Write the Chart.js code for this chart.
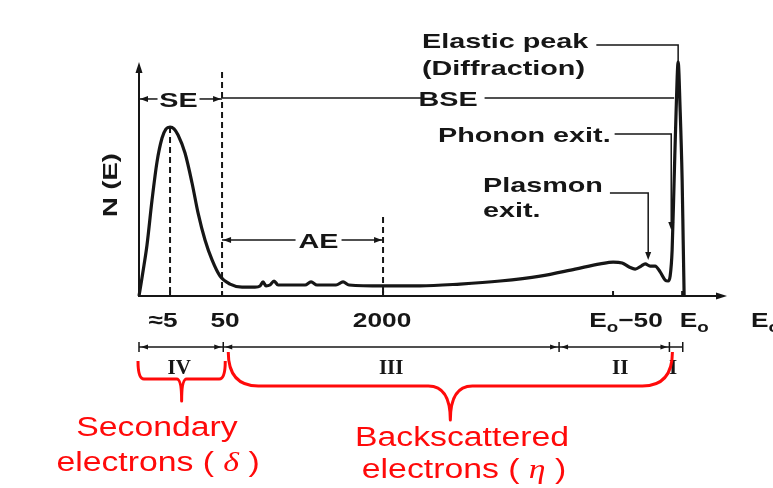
<!DOCTYPE html>
<html>
<head>
<meta charset="utf-8">
<script src="https://cdn.jsdelivr.net/npm/chart.js@4.4.1/dist/chart.umd.min.js"></script>
<style>
  html, body { margin: 0; padding: 0; background: #fff; }
  #spectrum { display: block; }
</style>
</head>
<body>
<canvas id="spectrum" width="773" height="488"></canvas>
<script>
// energy position (schematic, 0 = origin, arbitrary units) and N(E)
const energyPos = [
  0, 0.33, 0.83, 1.32, 2.15, 2.97, 3.8, 4.46, 5.12, 5.78, 6.44, 7.59, 8.75, 9.74,
  10.89, 12.05, 13.37, 15.02, 17.0, 19.14, 19.97, 20.46, 20.96, 21.6, 22.28, 22.94,
  25.74, 27.39, 28.38, 29.37, 32.5, 33.66, 34.65, 40.26, 46.37, 52.97, 59.57, 66.17,
  71.95, 76.07, 78.22, 79.7, 80.86, 81.85, 82.84, 83.5, 84.32, 85.15, 85.97, 86.8,
  87.29, 87.62, 87.95, 88.28, 88.61, 88.94, 89.27, 89.6, 89.77, 89.93
];
const countN = [
  0, 5.1, 13.2, 21.8, 41.0, 57.3, 67.5, 71.4, 72.2, 71.4, 68.8, 61.1, 48.3, 35.5,
  23.9, 15.4, 8.5, 5.1, 3.8, 3.8, 4.3, 6.0, 4.3, 4.7, 6.4, 4.7,
  4.7, 4.7, 6.0, 4.7, 4.7, 6.0, 4.7, 4.3, 4.3, 5.1, 6.4, 8.5,
  11.5, 13.7, 14.5, 14.1, 12.4, 11.5, 12.8, 13.7, 12.8, 12.8, 10.3, 6.8,
  6.4, 8.5, 19.7, 49.6, 79.5, 100, 79.5, 49.6, 23.9, 0
];

// x axis ticks
const tickValues = [5.12, 13.7, 40.26, 78.2, 89.6];
const tickLabels = ['≈5', '50', '2000', 'E0−50', 'E0'];

// energy regions under the axis
const regionBounds = [0, 13.9, 69.3, 87.5, 89.7];
const regionNames = ['IV', 'III', 'II', 'I'];

// guide lines: [x, top y]
const dashedGuides = [[5.12, 72.2], [13.7, 95.7], [40.26, 33.8]];
const spanSE = [0, 13.7];
const spanBSE = [13.7, 88.94];
const spanAE = [13.7, 40.26];

const INK = '#161616';
const RED = '#ff0a0a';
const SANS = '"Liberation Sans", Arial, sans-serif';
const SERIF = '"Liberation Serif", "Times New Roman", serif';

// text drawn a bit wider than the font, like the original lettering
function drawText(ctx, runs, x, y, align, sx, color) {
  ctx.save();
  ctx.fillStyle = color;
  ctx.textBaseline = 'alphabetic';
  ctx.textAlign = 'left';
  let w = 0;
  runs.forEach(r => { ctx.font = r.font; r.w = ctx.measureText(r.s).width; w += r.w; });
  w *= sx;
  let x0 = align === 'center' ? x - w / 2 : align === 'right' ? x - w : x;
  ctx.translate(x0, y);
  ctx.scale(sx, 1);
  let cx = 0;
  runs.forEach(r => {
    ctx.font = r.font;
    ctx.fillText(r.s, cx + (r.dx || 0), r.dy || 0);
    cx += r.w;
  });
  ctx.restore();
  return x0 + w;
}

function label(ctx, s, x, y, align, size) {
  return drawText(ctx, [{ s: s, font: 'bold ' + size + 'px ' + SANS }], x, y, align, 1.37, INK);
}

function arrowHead(ctx, x, y, dir, len, half) {
  ctx.beginPath();
  if (dir === 'right') { ctx.moveTo(x, y); ctx.lineTo(x - len, y - half); ctx.lineTo(x - len, y + half); }
  if (dir === 'left') { ctx.moveTo(x, y); ctx.lineTo(x + len, y - half); ctx.lineTo(x + len, y + half); }
  if (dir === 'up') { ctx.moveTo(x, y); ctx.lineTo(x - half, y + len); ctx.lineTo(x + half, y + len); }
  if (dir === 'down') { ctx.moveTo(x, y); ctx.lineTo(x - half, y - len); ctx.lineTo(x + half, y - len); }
  ctx.closePath();
  ctx.fill();
}

function line(ctx, pts) {
  ctx.beginPath();
  ctx.moveTo(pts[0][0], pts[0][1]);
  for (let i = 1; i < pts.length; i++) ctx.lineTo(pts[i][0], pts[i][1]);
  ctx.stroke();
}

// curly brace opening upward, tip pointing down
function brace(ctx, x0, x1, yTop, yMid, yTip, r, s) {
  const xc = (x0 + x1) / 2;
  ctx.beginPath();
  ctx.moveTo(x0, yTop);
  ctx.quadraticCurveTo(x0, yMid, x0 + r, yMid);
  ctx.lineTo(xc - s, yMid);
  ctx.quadraticCurveTo(xc, yMid, xc, yTip);
  ctx.quadraticCurveTo(xc, yMid, xc + s, yMid);
  ctx.lineTo(x1 - r, yMid);
  ctx.quadraticCurveTo(x1, yMid, x1, yTop);
  ctx.stroke();
}

const annotations = {
  id: 'annotations',
  beforeDatasetsDraw(chart) {
    const ctx = chart.ctx;
    const xs = chart.scales.x, ys = chart.scales.y;
    const px = v => xs.getPixelForValue(v);
    const py = v => ys.getPixelForValue(v);
    const a = chart.chartArea;
    const y0 = py(0);

    ctx.save();
    ctx.strokeStyle = INK;
    ctx.fillStyle = INK;
    ctx.lineCap = 'butt';

    // axes with arrows
    ctx.lineWidth = 2;
    line(ctx, [[a.left, a.top + 8], [a.left, y0], [a.right - 8, y0]]);
    arrowHead(ctx, a.left, a.top, 'up', 11, 3.5);
    arrowHead(ctx, a.right, y0, 'right', 11, 3.5);

    // tick marks
    tickValues.forEach(v => line(ctx, [[px(v), y0], [px(v), y0 - 5]]));

    // dashed guides
    ctx.setLineDash([6, 4]);
    ctx.lineWidth = 2;
    dashedGuides.forEach(g => line(ctx, [[px(g[0]), py(g[1])], [px(g[0]), y0]]));
    ctx.setLineDash([]);
    ctx.restore();
  },
  afterDatasetsDraw(chart) {
    const ctx = chart.ctx;
    const xs = chart.scales.x, ys = chart.scales.y;
    const px = v => xs.getPixelForValue(v);
    const py = v => ys.getPixelForValue(v);

    ctx.save();
    ctx.strokeStyle = INK;
    ctx.fillStyle = INK;

    // SE and BSE spans
    const ySpan = py(84.2);
    ctx.lineWidth = 1.5;
    const seL = px(spanSE[0]), seR = px(spanSE[1]);
    const seMid = (seL + seR) / 2 - 2;
    line(ctx, [[seL, ySpan], [seMid - 21, ySpan]]);
    line(ctx, [[seMid + 21, ySpan], [seR, ySpan]]);
    arrowHead(ctx, seL + 1, ySpan, 'left', 8, 3);
    arrowHead(ctx, seR - 1, ySpan, 'right', 8, 3);
    label(ctx, 'SE', seMid, ySpan + 8, 'center', 21);

    const bseEnd = label(ctx, 'BSE', 448, ySpan + 7, 'center', 21);
    line(ctx, [[px(spanBSE[0]), ySpan - 1], [bseEnd - 56, ySpan - 1]]);
    line(ctx, [[bseEnd + 7, ySpan - 1], [px(spanBSE[1]) - 4, ySpan - 1]]);

    // AE span
    const yAE = py(23.9);
    const aeL = px(spanAE[0]), aeR = px(spanAE[1]);
    const aeMid = (aeL + aeR) / 2 + 16;
    line(ctx, [[aeL, yAE], [aeMid - 23, yAE]]);
    line(ctx, [[aeMid + 23, yAE], [aeR, yAE]]);
    arrowHead(ctx, aeL + 1, yAE, 'left', 8, 3);
    arrowHead(ctx, aeR - 1, yAE, 'right', 8, 3);
    label(ctx, 'AE', aeMid, yAE + 8, 'center', 21);

    // elastic peak leader
    const elEnd = label(ctx, 'Elastic peak', 422, 48, 'left', 21);
    label(ctx, '(Diffraction)', 422, 75, 'left', 21);
    const yEl = py(107.3);
    line(ctx, [[elEnd + 8, yEl], [px(88.94), yEl], [px(88.94), py(100)]]);

    // phonon leader
    const phEnd = label(ctx, 'Phonon exit.', 438, 142, 'left', 21);
    const yPh = py(69.2);
    line(ctx, [[phEnd + 4, yPh], [px(87.8), yPh], [px(87.8), py(28.2) - 6]]);
    arrowHead(ctx, px(87.8), py(28.2), 'down', 8, 3);

    // plasmon leader
    const plEnd = label(ctx, 'Plasmon', 483, 192, 'left', 21);
    label(ctx, 'exit.', 483, 217, 'left', 21);
    const yPl = py(44.0);
    line(ctx, [[plEnd + 7, yPl], [px(84.0), yPl], [px(84.0), py(15.4) - 6]]);
    arrowHead(ctx, px(84.0), py(15.4), 'down', 8, 3);

    // y axis title
    ctx.save();
    ctx.translate(117, 185);
    ctx.rotate(-Math.PI / 2);
    label(ctx, 'N (E)', 0, 0, 'center', 20);
    ctx.restore();

    // tick labels, E0 drawn with a small subscript o
    const tickFont = 'bold 21px ' + SANS;
    const subFont = 'bold 15px ' + SANS;
    const nudge = [-7, 3, -1, 13, 12];
    tickLabels.forEach((t, i) => {
      let runs;
      if (t.startsWith('E0')) {
        runs = [{ s: 'E', font: tickFont }, { s: 'o', font: subFont, dy: 5 }];
        if (t.length > 2) runs.push({ s: t.slice(2), font: tickFont });
      } else {
        runs = [{ s: t, font: tickFont }];
      }
      drawText(ctx, runs, px(tickValues[i]) + nudge[i], 327, 'center', 1.25, INK);
    });
    drawText(ctx, [{ s: 'E', font: tickFont }, { s: 'o', font: subFont, dy: 5 }], 751, 327, 'left', 1.25, INK);

    // region bar
    const yR = 347;
    ctx.lineWidth = 1.5;
    line(ctx, [[px(regionBounds[0]), yR], [px(regionBounds[regionBounds.length - 1]), yR]]);
    regionBounds.forEach(b => line(ctx, [[px(b), yR - 5], [px(b), yR + 5]]));
    for (let i = 0; i < regionNames.length; i++) {
      const l = px(regionBounds[i]), r = px(regionBounds[i + 1]);
      if (r - l > 30) {
        arrowHead(ctx, l + 2, yR, 'left', 7, 2.5);
        arrowHead(ctx, r - 2, yR, 'right', 7, 2.5);
      }
      const nudgeR = [-2, 0, 6, -3][i];
      drawText(ctx, [{ s: regionNames[i], font: 'bold 20px ' + SERIF }], (l + r) / 2 + nudgeR, 374, 'center', 1.05, INK);
    }

    // red braces and their captions
    ctx.strokeStyle = RED;
    ctx.lineWidth = 3;
    ctx.lineJoin = 'round';
    brace(ctx, px(regionBounds[0]) - 1, px(regionBounds[1]) + 2, 361, 379, 401, 6, 5);
    brace(ctx, px(regionBounds[1]) + 5, px(regionBounds[3]) + 3, 352, 386, 420, 30, 22);

    const redFont = '27px ' + SANS;
    const greek = 'italic 27px ' + SERIF;
    drawText(ctx, [{ s: 'Secondary', font: redFont }], 157, 436, 'center', 1.25, RED);
    drawText(ctx, [{ s: 'electrons ( ', font: redFont }, { s: 'δ', font: greek }, { s: ' )', font: redFont }], 158, 471, 'center', 1.25, RED);
    drawText(ctx, [{ s: 'Backscattered', font: redFont }], 462, 446, 'center', 1.25, RED);
    drawText(ctx, [{ s: 'electrons ( ', font: redFont }, { s: 'η', font: greek }, { s: ' )', font: redFont }], 464, 478, 'center', 1.25, RED);

    ctx.restore();
  }
};

new Chart(document.getElementById('spectrum'), {
  type: 'line',
  data: {
    datasets: [{
      data: energyPos.map((x, i) => ({ x: x, y: countN[i] })),
      borderColor: INK,
      borderWidth: 3.2,
      pointRadius: 0,
      cubicInterpolationMode: 'monotone',
      fill: false,
      clip: false
    }]
  },
  options: {
    responsive: false,
    animation: false,
    devicePixelRatio: 1,
    layout: { padding: { left: 139, right: 46, top: 62, bottom: 192 } },
    plugins: { legend: { display: false }, tooltip: { enabled: false } },
    scales: {
      x: { type: 'linear', min: 0, max: 97, display: false },
      y: { type: 'linear', min: 0, max: 100, display: false }
    }
  },
  plugins: [annotations]
});
</script>
</body>
</html>
